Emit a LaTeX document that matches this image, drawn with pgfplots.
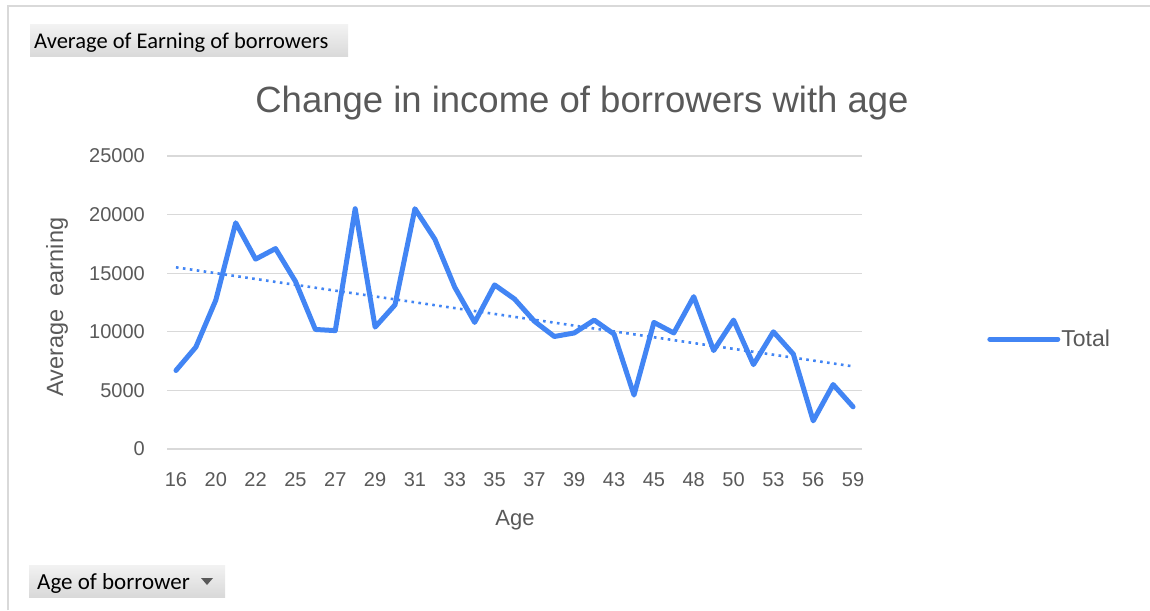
\documentclass[border=0pt]{standalone}
\usepackage{pgfplots}
\pgfplotsset{compat=1.18}
\usepackage{pgfplotstable}
\usepackage{fontspec}
\setmainfont{Liberation Sans}
\newfontfamily\carlito{Carlito}
\definecolor{txtgray}{RGB}{89,89,89}
\definecolor{lineblue}{RGB}{66,133,244}
\definecolor{gridgray}{RGB}{217,217,217}
\pgfplotstableread{
idx val
0 6700
1 8700
2 12700
3 19300
4 16200
5 17100
6 14300
7 10200
8 10100
9 20500
10 10400
11 12300
12 20500
13 17900
14 13800
15 10800
16 14000
17 12800
18 10900
19 9600
20 9900
21 11000
22 9800
23 4600
24 10800
25 9900
26 13000
27 8400
28 11000
29 7200
30 10000
31 8100
32 2400
33 5500
34 3600
}\datatable
\pgfplotstableread{
idx val
0 15500
34 7050
}\trendtable
\begin{document}
\begin{tikzpicture}
\useasboundingbox (0pt,0pt) rectangle (1150pt,610pt);
% chart area border
\draw[gridgray, line width=2pt] (8pt,0pt) -- (8pt,604pt) -- (1150pt,604pt);
% field buttons
\shade[top color=gray!10, bottom color=gray!30] (30pt,553pt) rectangle (348pt,585pt);
\node[anchor=base west, inner sep=0pt, font=\carlito\fontsize{22.5}{24}\selectfont] at (34pt,561pt) {Average of Earning of borrowers};
\shade[top color=gray!10, bottom color=gray!30] (29pt,13pt) rectangle (225pt,45pt);
\node[anchor=base west, inner sep=0pt, font=\carlito\fontsize{23}{25}\selectfont] at (37pt,21pt) {Age of borrower};
\fill[black!65] (201pt,32pt) -- (213pt,32pt) -- (207pt,25pt) -- cycle;
% title
\node[anchor=base, inner sep=0pt, text=txtgray, font=\fontsize{36.5}{42}\selectfont] at (582pt,497pt) {Change in income of borrowers with age};
% axis title y
\node[rotate=90, inner sep=0pt, text=txtgray, font=\fontsize{23.5}{26}\selectfont] at (57pt,303pt) {Average\ \ earning};
% axis title x
\node[anchor=base, inner sep=0pt, text=txtgray, font=\fontsize{22}{25}\selectfont] at (515pt,84pt) {Age};
\begin{axis}[
  at={(167pt,161pt)}, anchor=south west,
  scale only axis, width=695pt, height=293pt,
  xmin=-0.45, xmax=34.45, ymin=0, ymax=25000,
  xtick={0,2,...,34},
  xticklabels={16,20,22,25,27,29,31,33,35,37,39,43,45,48,50,53,56,59},
  ytick={0,5000,...,25000},
  axis line style={draw=none}, major tick length=0pt,
  ymajorgrids, grid style={gridgray, line width=1.3pt},
  /pgf/number format/assume math mode=true,
  /pgf/number format/1000 sep={},
  scaled y ticks=false,
  ticklabel style={text=txtgray, font=\fontsize{20}{22}\selectfont},
  xticklabel style={anchor=base, inner sep=0pt, yshift=-38pt},
  yticklabel style={anchor=east, inner sep=0pt, xshift=-22pt},
  clip=false,
  legend style={draw=none, fill=none, at={(1.18,0.375)}, anchor=west, inner sep=0pt,
    font=\fontsize{23}{26}\selectfont, text=txtgray,
    nodes={inner sep=1pt}},
  legend image code/.code={\draw[line width=5pt, line cap=round, lineblue] (0pt,0pt) -- (68pt,0pt);},
]
\addplot[lineblue, line width=2.6pt, dash pattern=on 2.6pt off 4.4pt, forget plot] table[x=idx, y=val] {\trendtable};
\addplot[lineblue, line width=5pt, line join=round, line cap=round] table[x=idx, y=val] {\datatable};
\addlegendentry{Total}
\end{axis}
\end{tikzpicture}
\end{document}
